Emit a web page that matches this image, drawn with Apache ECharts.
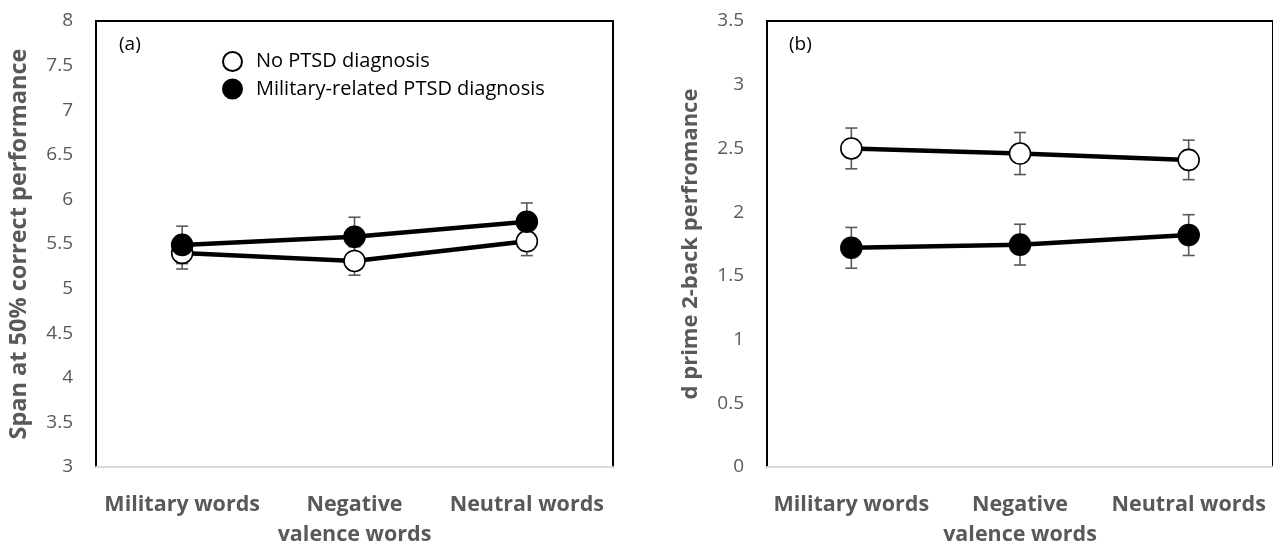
<!DOCTYPE html>
<html>
<head>
<meta charset="utf-8">
<script src="https://cdn.jsdelivr.net/npm/echarts@6/dist/echarts.min.js"></script>
<style>
html,body{margin:0;padding:0;background:#fff;}
#chart{width:1273px;height:550px;}
</style>
</head>
<body>
<div id="chart"></div>
<script>
const categories = ['Military words', 'Negative\nvalence words', 'Neutral words'];
const seriesNames = ['No PTSD diagnosis', 'Military-related PTSD diagnosis'];

// Panel (a): Span at 50% correct performance
const spanNoPTSD = [5.40, 5.31, 5.53];
const spanNoPTSDErr = [0.18, 0.16, 0.16];
const spanPTSD = [5.49, 5.58, 5.75];
const spanPTSDErr = [0.21, 0.22, 0.21];

// Panel (b): d prime 2-back performance
const dNoPTSD = [2.50, 2.46, 2.41];
const dNoPTSDErr = [0.16, 0.165, 0.155];
const dPTSD = [1.72, 1.745, 1.82];
const dPTSDErr = [0.16, 0.16, 0.16];

const FONT = '"Open Sans", "Noto Sans", sans-serif';
const GRAY = '#595959';

function errData(vals, errs) {
  return vals.map((v, i) => [i, v - errs[i], v + errs[i]]);
}

function errSeries(vals, errs, axisIdx) {
  return {
    type: 'custom',
    xAxisIndex: axisIdx, yAxisIndex: axisIdx,
    z: 1,
    silent: true,
    data: errData(vals, errs),
    renderItem: function (params, api) {
      const x = api.value(0);
      const lo = api.coord([x, api.value(1)]);
      const hi = api.coord([x, api.value(2)]);
      const cw = 6;
      const st = { stroke: GRAY, lineWidth: 1.6 };
      return {
        type: 'group',
        children: [
          { type: 'line', shape: { x1: lo[0], y1: lo[1], x2: hi[0], y2: hi[1] }, style: st },
          { type: 'line', shape: { x1: lo[0] - cw, y1: lo[1], x2: lo[0] + cw, y2: lo[1] }, style: st },
          { type: 'line', shape: { x1: hi[0] - cw, y1: hi[1], x2: hi[0] + cw, y2: hi[1] }, style: st }
        ]
      };
    }
  };
}

function lineSeries(name, vals, axisIdx, filled) {
  return {
    name: name,
    type: 'line',
    xAxisIndex: axisIdx, yAxisIndex: axisIdx,
    z: filled ? 4 : 3,
    data: vals,
    symbol: 'circle',
    symbolSize: 21,
    lineStyle: { color: '#000', width: 4.5 },
    itemStyle: { color: filled ? '#000' : '#fff', borderColor: '#000', borderWidth: 1.6 },
    emphasis: { disabled: true },
    animation: false
  };
}

function xAxisCfg(gi) {
  return {
    type: 'category', gridIndex: gi, data: categories,
    axisLine: { show: true, lineStyle: { color: '#d9d9d9', width: 2 } },
    axisTick: { show: false },
    axisLabel: { color: GRAY, fontFamily: FONT, fontWeight: 'bold', fontSize: 21.5, margin: 23, lineHeight: 30, interval: 0 }
  };
}

function yAxisCfg(gi, min, max, name, gap, nameSize) {
  return {
    type: 'value', gridIndex: gi, min: min, max: max, interval: 0.5,
    name: name, nameLocation: 'middle', nameGap: gap, nameRotate: 90,
    nameTextStyle: { color: GRAY, fontFamily: FONT, fontWeight: 'bold', fontSize: nameSize },
    axisLine: { show: false }, axisTick: { show: false },
    splitLine: { show: false },
    axisLabel: { color: GRAY, fontFamily: FONT, fontSize: 19, margin: 23 }
  };
}

const chart = echarts.init(document.getElementById('chart'), null, { renderer: 'canvas' });
chart.setOption({
  animation: false,
  backgroundColor: '#fff',
  grid: [
    { left: 96, top: 21, width: 517, bottom: 77, show: true, borderColor: '#000', borderWidth: 2, backgroundColor: 'transparent' },
    { left: 767, top: 21, width: 514, bottom: 77, show: true, borderColor: '#000', borderWidth: 2, backgroundColor: 'transparent' }
  ],
  xAxis: [xAxisCfg(0), xAxisCfg(1)],
  yAxis: [
    yAxisCfg(0, 3, 8, 'Span at 50% correct performance', 65, 23.5),
    yAxisCfg(1, 0, 3.5, 'd prime 2-back perfromance', 65, 22)
  ],
  legend: {
    orient: 'vertical', left: 217, top: 46, itemGap: 6.5,
    icon: 'circle', itemWidth: 19, itemHeight: 19,
    textStyle: { color: '#000', fontFamily: FONT, fontSize: 20, lineHeight: 20, padding: [0, 0, 0, 9] },
    data: seriesNames,
    selectedMode: false
  },
  graphic: [
    { type: 'text', left: 119, top: 35, style: { text: '(a)', font: '19px ' + FONT, fill: '#000' } },
    { type: 'text', left: 789, top: 35, style: { text: '(b)', font: '19px ' + FONT, fill: '#000' } }
  ],
  series: [
    errSeries(spanNoPTSD, spanNoPTSDErr, 0),
    errSeries(spanPTSD, spanPTSDErr, 0),
    lineSeries(seriesNames[0], spanNoPTSD, 0, false),
    lineSeries(seriesNames[1], spanPTSD, 0, true),
    errSeries(dNoPTSD, dNoPTSDErr, 1),
    errSeries(dPTSD, dPTSDErr, 1),
    lineSeries(seriesNames[0], dNoPTSD, 1, false),
    lineSeries(seriesNames[1], dPTSD, 1, true)
  ]
});
</script>
</body>
</html>
